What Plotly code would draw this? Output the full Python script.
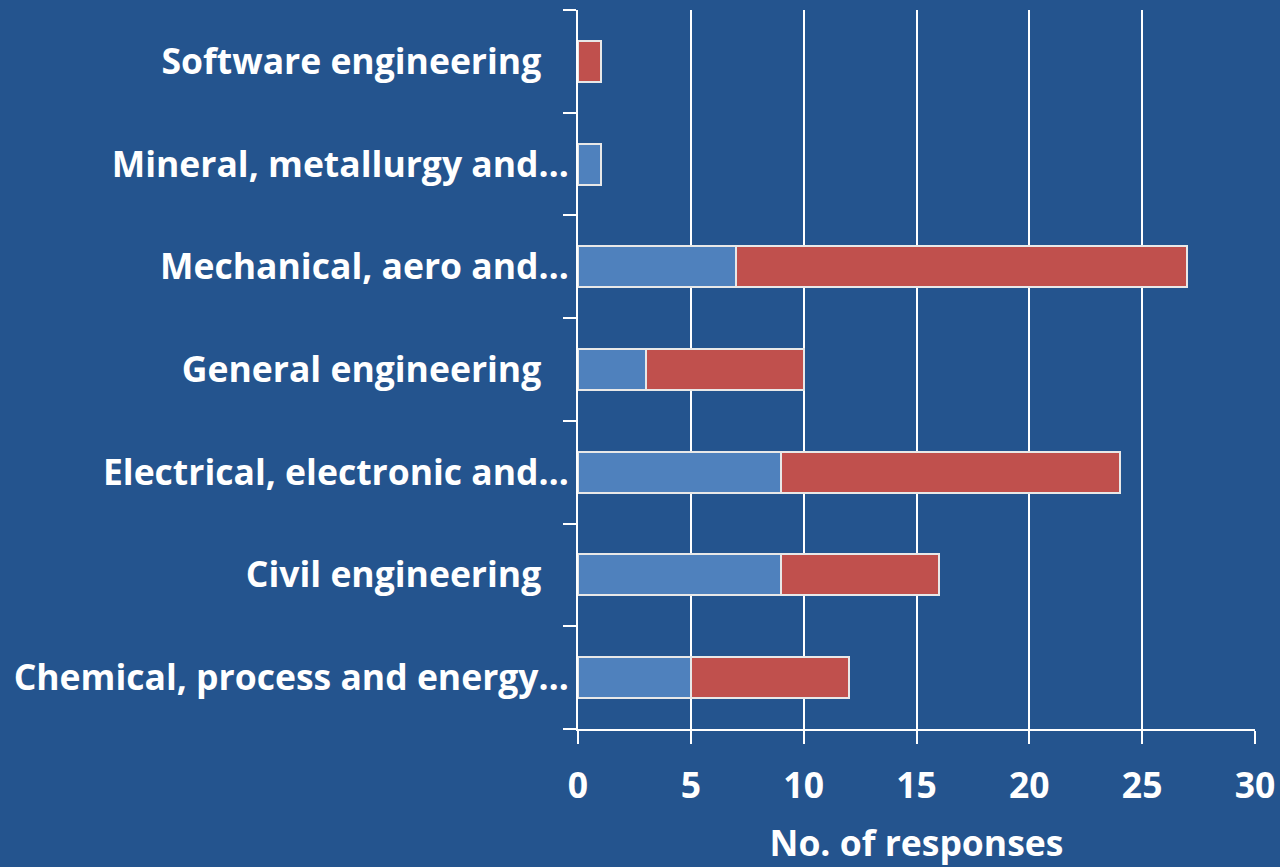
import plotly.graph_objects as go

categories = [
    "Chemical, process and energy…",
    "Civil engineering",
    "Electrical, electronic and…",
    "General engineering",
    "Mechanical, aero and…",
    "Mineral, metallurgy and…",
    "Software engineering",
]
# labels that were not cut short carry some space after them
tick_labels = [
    "Chemical, process and energy…",
    "Civil engineering\u00a0\u00a0\u00a0",
    "Electrical, electronic and…",
    "General engineering\u00a0\u00a0\u00a0",
    "Mechanical, aero and…",
    "Mineral, metallurgy and…",
    "Software engineering\u00a0\u00a0\u00a0",
]
series_blue = [5, 9, 9, 3, 7, 1, 0]
series_red = [7, 7, 15, 7, 20, 0, 1]

bg = "#24548E"
font = "Open Sans"
fsize = 35.5

fig = go.Figure()
fig.add_trace(go.Bar(y=categories, x=series_blue, orientation="h",
                     marker=dict(color="#4F81BD", line=dict(color="#E8E8E8", width=2))))
fig.add_trace(go.Bar(y=categories, x=series_red, orientation="h",
                     marker=dict(color="#C0504D", line=dict(color="#E8E8E8", width=2))))

fig.update_layout(
    barmode="stack",
    bargap=0.6,
    showlegend=False,
    width=1280, height=867,
    paper_bgcolor=bg, plot_bgcolor=bg,
    margin=dict(l=578, r=25, t=10, b=138),
    font=dict(family=font, color="white", size=fsize),
)
fig.update_xaxes(
    range=[0, 30], dtick=5,
    automargin=False,
    showgrid=True, gridcolor="white", gridwidth=2,
    showline=True, linecolor="white", linewidth=2,
    ticks="outside", ticklen=13, tickcolor="white", tickwidth=2,
    ticklabelstandoff=11,
    tickfont=dict(family=font, size=fsize, color="white", weight="bold"),
    title=dict(text="<b>No. of responses</b>", font=dict(family=font, size=fsize, color="white"), standoff=25),
    zeroline=False,
)
fig.update_yaxes(
    categoryorder="array", categoryarray=categories,
    tickmode="array", tickvals=categories, ticktext=tick_labels,
    automargin=False,
    tickson="boundaries", ticks="outside", ticklen=13, tickcolor="white", tickwidth=2,
    showline=True, linecolor="white", linewidth=2,
    showgrid=False,
    tickfont=dict(family=font, size=fsize, color="white", weight="bold"),
)

fig.write_html("out.html", config={"displayModeBar": False},
               post_script="document.body.style.margin='0';")
